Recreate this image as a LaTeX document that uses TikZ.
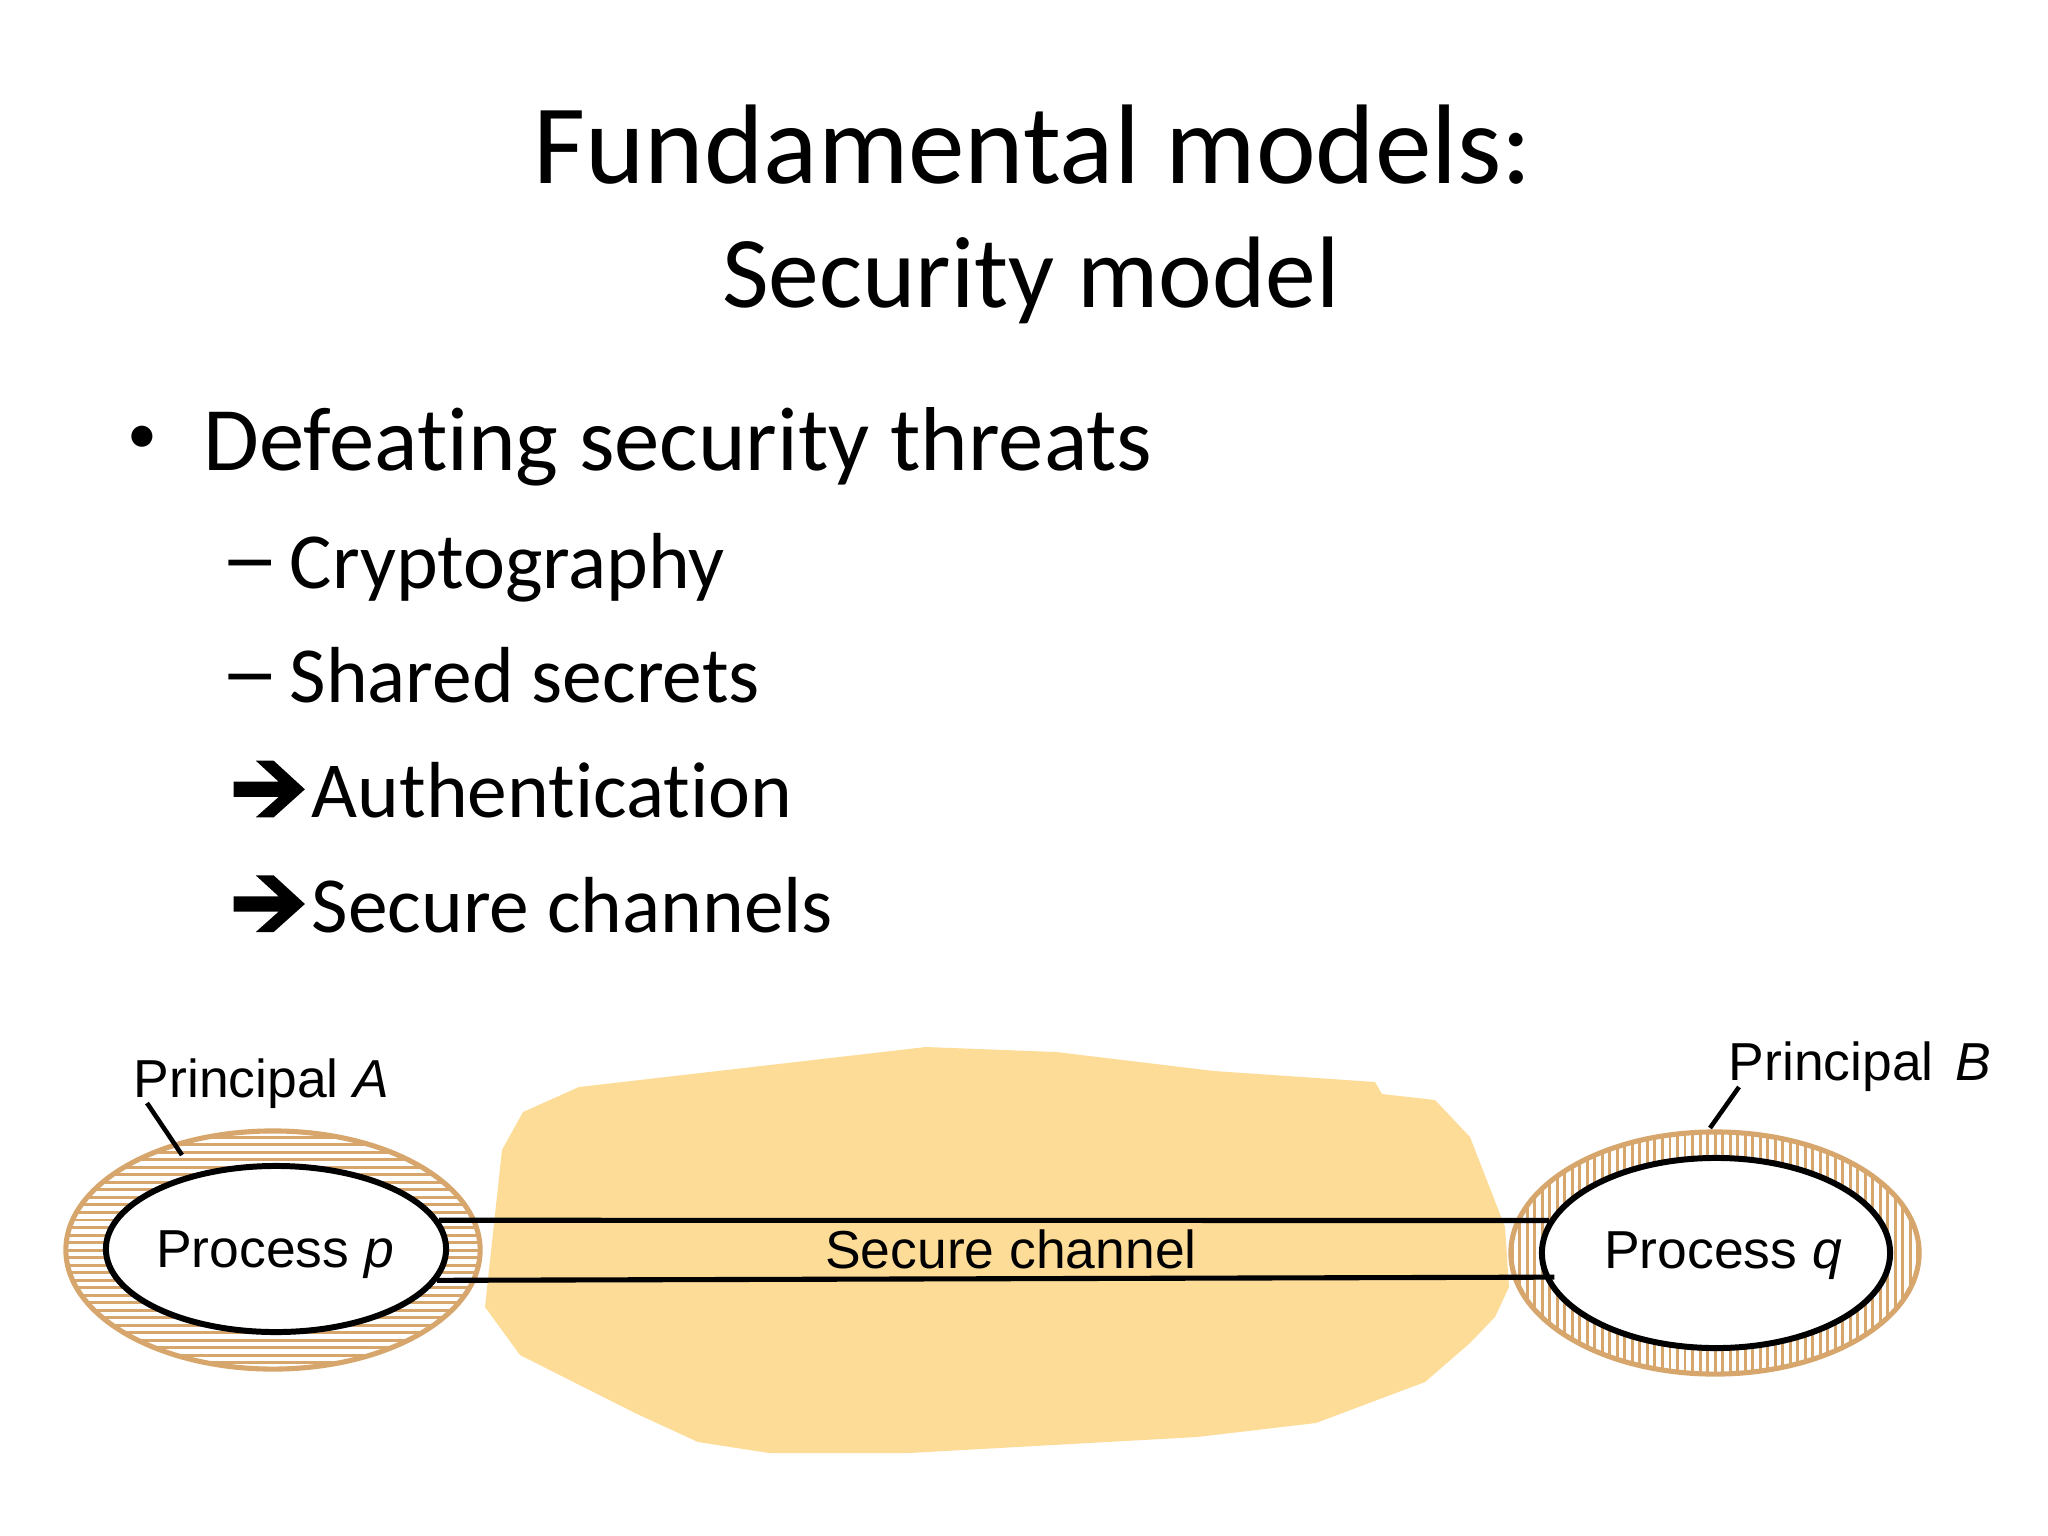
\documentclass[tikz,border=0pt]{standalone}
\usepackage{fontspec}
\setmainfont{Carlito}[Ligatures=NoCommon]
\newfontfamily\arialf{Liberation Sans}
\usetikzlibrary{shapes.geometric}
\definecolor{tanc}{RGB}{214,166,108}
\definecolor{blobc}{RGB}{253,220,151}
\tikzset{
  titleA/.style={anchor=base, inner sep=0, font=\fontsize{32.2}{38}\selectfont},
  titleB/.style={anchor=base, inner sep=0, font=\fontsize{28.9}{34}\selectfont},
  lvlone/.style={anchor=base west, inner sep=0, font=\fontsize{25.8}{30}\selectfont},
  lvltwo/.style={anchor=base west, inner sep=0, font=\fontsize{22.6}{27}\selectfont},
  bulletmark/.style={inner sep=0, font=\fontsize{17}{20}\selectfont},
  lab/.style={inner sep=0, font=\arialf\fontsize{15.2}{18}\selectfont},
  outerell/.style={ellipse, draw=tanc, line width=1.45pt, inner sep=0, fill=white},
  innerell/.style={ellipse, draw=black, line width=1.7pt, inner sep=0, fill=white},
  chan/.style={draw=black, line width=1.45pt},
  leader/.style={draw=black, line width=1.3pt},
  hatchH/.style={path picture={\foreach \k in {-17,...,17}{\draw[tanc, line width=0.85pt] ([yshift=\k*0.075cm]path picture bounding box.west) -- ([yshift=\k*0.075cm]path picture bounding box.east);}}},
  hatchV/.style={path picture={\foreach \k in {-28,...,28}{\draw[tanc, line width=0.85pt] ([xshift=\k*0.075cm]path picture bounding box.north) -- ([xshift=\k*0.075cm]path picture bounding box.south);}}},
  harrow/.pic={\fill[black] (0,-7.6) -- (45.2,-7.6) -- (22.3,-28.6) -- (40.2,-28.6) -- (71.4,0) -- (40.2,28) -- (22.3,28) -- (45.2,7.6) -- (0,7.6) -- cycle;}
}
\begin{document}
\begin{tikzpicture}[x=0.01cm,y=-0.01cm]
\fill[white] (0,0) rectangle (2048,1536);
\useasboundingbox (0,0) rectangle (2048,1536);

% titles
\node[titleA] (t1) at (1033,183) {Fundamental models:};
\node[titleB] (t2) at (1031,307) {Security model};

% bullets
\node[bulletmark] (b0) at (142,440) {•};
\node[lvlone] (b1) at (203,470) {Defeating security threats};
\node[lvltwo] (d1) at (220,588) {\scalebox{1.5}[1.15]{–}};
\node[lvltwo] (s1) at (289,588) {Cryptography};
\node[lvltwo] (d2) at (220,702) {\scalebox{1.5}[1.15]{–}};
\node[lvltwo] (s2) at (289,702) {Shared secrets};
\pic at (233.5,789.3) {harrow};
\node[lvltwo] (s3) at (311,817) {Authentication};
\pic at (233.5,904) {harrow};
\node[lvltwo] (s4) at (311,932) {Secure channels};

% network blob
\fill[blobc] (579,1087) -- (926,1047) -- (1056,1052) -- (1214,1071) -- (1375,1082) -- (1382,1094) -- (1435,1100) -- (1470,1137) -- (1505,1227) -- (1509,1287) -- (1495,1317) -- (1470,1343) -- (1425,1382) -- (1316,1423) -- (1197,1437) -- (909,1453) -- (769,1453) -- (698,1442) -- (635,1413) -- (520,1355) -- (485,1307) -- (502,1150) -- (523,1112) -- cycle;

% principals
\node[outerell, hatchH, minimum width=4.14cm, minimum height=2.38cm] (pa) at (273,1250) {};
\node[outerell, hatchV, minimum width=4.08cm, minimum height=2.42cm] (pb) at (1715,1253) {};

% processes
\node[innerell, minimum width=3.40cm, minimum height=1.66cm] (pp) at (276,1249) {};
\node[innerell, minimum width=3.48cm, minimum height=1.90cm] (pq) at (1716,1253) {};

% secure channel
\draw[chan] (pp.10) -- (pq.169);
\draw[chan] (pp.-11.5) -- ([xshift=0.1cm]pq.188);

% labels
\node[lab, anchor=base] (lp) at (275,1267) {Process \textit{p}};
\node[lab, anchor=base] (lq) at (1723,1268) {Process \textit{q}};
\node[lab, anchor=base] (lc) at (1011,1268) {Secure channel};
\node[lab, anchor=base west] (la) at (133,1097) {Principal \textit{A}};
\node[lab, anchor=base west] (lb) at (1728,1080) {Principal\hspace{0.4em}\textit{B}};

\coordinate (la1) at (147,1103);
\coordinate (la2) at (182,1155);
\coordinate (lb1) at (1739,1087);
\coordinate (lb2) at (1710,1128);
\draw[leader] (la1) -- (la2);
\draw[leader] (lb1) -- (lb2);
\end{tikzpicture}
\end{document}
